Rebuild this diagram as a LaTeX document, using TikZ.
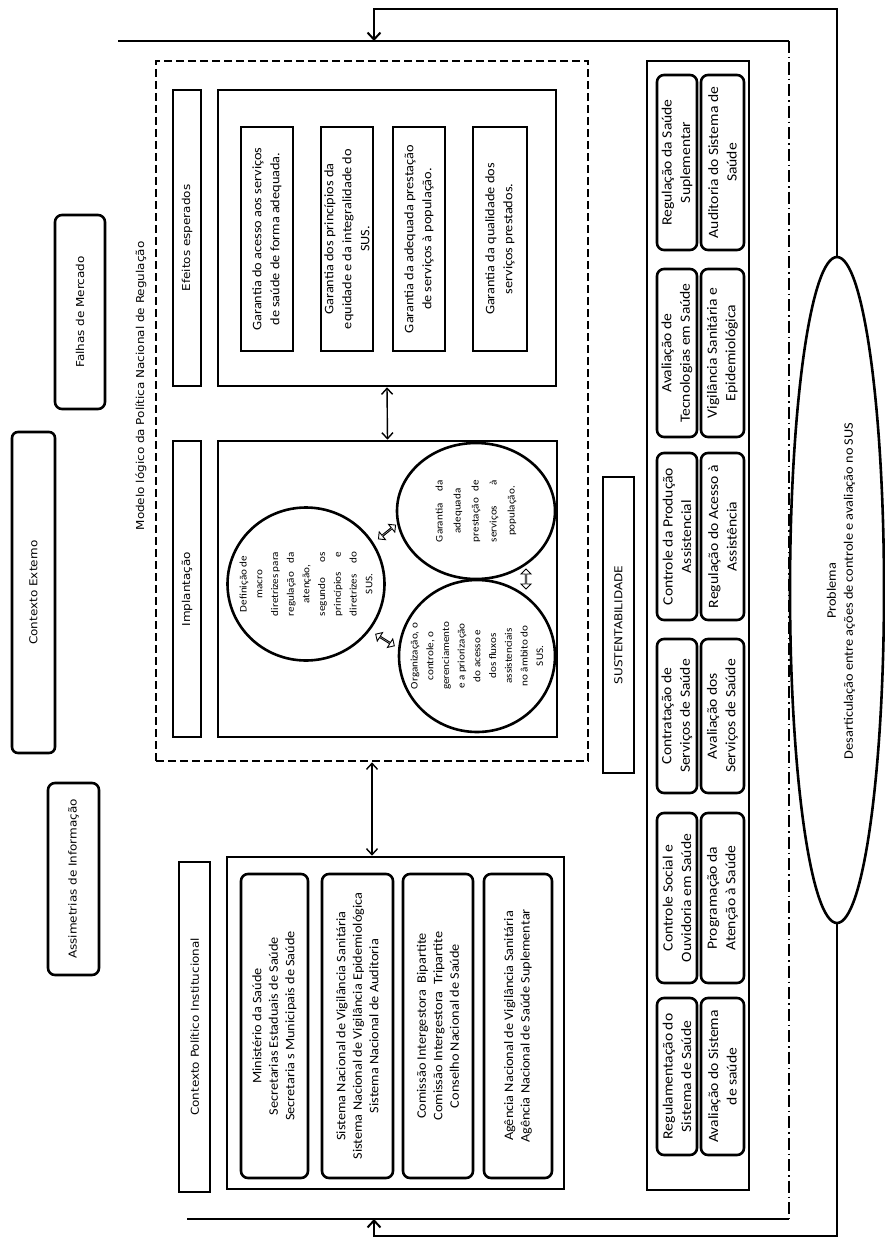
\documentclass[tikz,border=0pt]{standalone}
\usepackage{fontspec}
\newfontfamily\lf{DejaVu Sans}[FakeStretch=1.1]
\newfontfamily\cf{Carlito}[FakeStretch=1.1]
\usetikzlibrary{arrows.meta,shapes.geometric,shapes.arrows}
\newcommand\jst[2][64pt]{\makebox[#1][s]{#2}}
\begin{document}
\begin{tikzpicture}[x=1pt,y=-1pt,
  sqbox/.style={draw, line width=2.6pt, inner sep=0pt, rotate=90, align=center},
  rdbox/.style={sqbox, rounded corners=7pt},
  emptybox/.style={draw, line width=2.6pt, inner sep=0pt},
  labf/.style={font={\lf\fontsize{10.9}{13}\selectfont}},
  efftxt/.style={font={\cf\fontsize{13}{18}\selectfont}},
  circtxt/.style={font={\cf\fontsize{10.1}{15.7}\selectfont}, align=center, inner sep=0pt},
  cpitxt/.style={font={\cf\fontsize{13}{16.5}\selectfont}},
  rctxt/.style={font={\cf\fontsize{14.2}{18.5}\selectfont}},
  probtxt/.style={font={\cf\fontsize{13}{17}\selectfont}},
  dbl/.style={line width=1.4pt, {Straight Barb[length=6pt,width=11pt]}-{Straight Barb[length=6pt,width=11pt]}},
  fb/.style={line width=2pt, -{Straight Barb[length=7pt,width=13pt]}},
  frameline/.style={line width=2pt},
  dashdotline/.style={line width=1.7pt, dash pattern=on 12pt off 4pt on 1.5pt off 4pt},
  hollow/.style={double arrow, draw, line width=0.9pt, minimum height=22pt, minimum width=10pt, double arrow head extend=2.5pt, inner sep=0pt}
]
\path[use as bounding box, fill=white] (0,0) rectangle (884,1239);

% external context
\node[rdbox, labf, rounded corners=6pt, minimum width=321, minimum height=43] (ext) at (33.5,592.5) {Contexto Externo};
\node[rdbox, labf, minimum width=194, minimum height=50] (falhas) at (80,312) {Falhas de Mercado};
\node[rdbox, labf, minimum width=192, minimum height=51] (assim) at (73.5,879) {Assimetrias de Informação};

% logic model
\node[emptybox, line width=2.6pt, dash pattern=on 8pt off 4pt, minimum width=432, minimum height=700] (model) at (372,411) {};
\node[labf, rotate=90] (modelT) at (141,386) {Modelo lógico da Política Nacional de Regulação};

\node[sqbox, labf, minimum width=296, minimum height=28] (efT) at (187,238) {Efeitos esperados};
\node[emptybox, minimum width=338, minimum height=296] (eff) at (387,238) {};
\node[sqbox, efftxt, minimum width=224, minimum height=52] (e1) at (267,239) {Garantia do acesso aos serviços\\de saúde de forma adequada.};
\node[sqbox, efftxt, minimum width=224, minimum height=52] (e2) at (347,239) {Garantia dos princípios da\\equidade e da integralidade do\\SUS.};
\node[sqbox, efftxt, minimum width=224, minimum height=52] (e3) at (419,239) {Garantia da adequada prestação\\de serviços à população.};
\node[sqbox, efftxt, minimum width=224, minimum height=54] (e4) at (500,239) {Garantia da qualidade dos\\serviços prestados.};

\node[sqbox, labf, minimum width=296, minimum height=28] (impT) at (187,589) {Implantação};
\node[emptybox, minimum width=339, minimum height=296] (impl) at (387.5,589) {};
\node[emptybox, ellipse, minimum width=157, minimum height=153] (c1) at (306,584) {};
\node[circtxt, rotate=90] (c1T) at (c1) {Definição de\\macro\\\jst{diretrizes para}\\\jst{regulação da}\\atenção,\\\jst{segundo os}\\\jst{princípios e}\\\jst{diretrizes do}\\SUS.};
\node[emptybox, ellipse, minimum width=158, minimum height=136] (c2) at (476,511) {};
\node[circtxt, rotate=90, font={\cf\fontsize{10.1}{18}\selectfont}] (c2T) at (c2) {\jst[62pt]{Garantia da}\\adequada\\\jst[62pt]{prestação de}\\\jst[62pt]{serviços à}\\população.};
\node[emptybox, ellipse, minimum width=156, minimum height=152] (c3) at (477,656) {};
\node[circtxt, rotate=90] (c3T) at (c3) {Organização, o\\controle, o\\gerenciamento\\e a priorização\\do acesso e\\dos fluxos\\assistenciais\\no âmbito do\\SUS.};
\node[hollow, rotate=39] (h12) at (387,532) {};
\node[hollow, rotate=-32] (h13) at (385,640) {};
\node[hollow, rotate=90, minimum height=20pt] (h23) at (526,579) {};

\draw[dbl] (eff.south) -- (impl.north);

% political institutional context
\node[sqbox, labf, minimum width=330, minimum height=31] (cpiT) at (194.5,1027) {Contexto Político Institucional};
\node[emptybox, minimum width=337, minimum height=332] (cpi) at (395.5,1023) {};
\node[rdbox, cpitxt, minimum width=304, minimum height=67] (p1) at (274.5,1026) {Ministério da Saúde\\Secretarias Estaduais de Saúde\\Secretaria s Municipais de Saúde};
\node[rdbox, cpitxt, minimum width=304, minimum height=71] (p2) at (357.5,1026) {Sistema Nacional de Vigilância Sanitária\\Sistema Nacional de Vigilância Epidemiológica\\Sistema Nacional de Auditoria};
\node[rdbox, cpitxt, minimum width=304, minimum height=70] (p3) at (438,1026) {Comissão Intergestora\enspace Bipartite\\Comissão Intergestora\enspace Tripartite\\Conselho Nacional de Saúde};
\node[rdbox, cpitxt, minimum width=304, minimum height=68] (p4) at (518,1026) {Agência Nacional de Vigilância Sanitária\\Agência Nacional de Saúde Suplementar};

\draw[dbl] (model.south) -- (cpi.north -| model.south);

% sustainability
\node[sqbox, labf, minimum width=296, minimum height=31] (sust) at (618.5,625) {SUSTENTABILIDADE};
\node[emptybox, minimum width=102, minimum height=1129] (comp) at (698,625.5) {};
\node[rdbox, rctxt, minimum width=175, minimum height=40] (r1a) at (677,162.5) {Regulação da Saúde\\Suplementar};
\node[rdbox, rctxt, minimum width=175, minimum height=43] (r1b) at (722.5,162.5) {Auditoria do Sistema de\\Saúde};
\node[rdbox, rctxt, minimum width=168, minimum height=40] (r2a) at (677,353) {Avaliação de\\Tecnologias em Saúde};
\node[rdbox, rctxt, minimum width=168, minimum height=43] (r2b) at (722.5,353) {Vigilância Sanitária e\\Epidemiológica};
\node[rdbox, rctxt, minimum width=167, minimum height=40] (r3a) at (677,536.5) {Controle da Produção\\Assistencial};
\node[rdbox, rctxt, minimum width=167, minimum height=43] (r3b) at (722.5,536.5) {Regulação do Acesso à\\Assistência};
\node[rdbox, rctxt, minimum width=154, minimum height=40] (r4a) at (677,716) {Contratação de\\Serviços de Saúde};
\node[rdbox, rctxt, minimum width=154, minimum height=43] (r4b) at (722.5,716) {Avaliação dos\\Serviços de Saúde};
\node[rdbox, rctxt, minimum width=170, minimum height=40] (r5a) at (677,898) {Controle Social e\\Ouvidoria em Saúde};
\node[rdbox, rctxt, minimum width=170, minimum height=43] (r5b) at (722.5,898) {Programação da\\Atenção à Saúde};
\node[rdbox, rctxt, minimum width=157, minimum height=40] (r6a) at (677,1076.5) {Regulamentação do\\Sistema de Saúde};
\node[rdbox, rctxt, minimum width=157, minimum height=43] (r6b) at (722.5,1076.5) {Avaliação do Sistema\\de saúde};

% problem
\node[emptybox, ellipse, minimum width=94, minimum height=666] (prob) at (837,590) {};
\node[probtxt, rotate=90, align=center, inner sep=0pt] (probT) at (841,591) {Problema\\Desarticulação entre ações de controle e avaliação no SUS};

% frame and feedback
\coordinate (tl) at (118,41);
\coordinate (tr) at (789,41);
\coordinate (bl) at (187,1219);
\coordinate (br) at (789,1219);
\draw[frameline] (tl) -- (tr);
\draw[frameline] (bl) -- (br);
\draw[dashdotline] (tr) -- (br);
\coordinate (fbT) at (374,9);
\coordinate (inT) at (374,41);
\coordinate (fbB) at (374,1236);
\coordinate (inB) at (374,1219);
\draw[fb] (prob.north) |- (fbT) -- (inT);
\draw[fb] (prob.south) |- (fbB) -- (inB);
\end{tikzpicture}
\end{document}
